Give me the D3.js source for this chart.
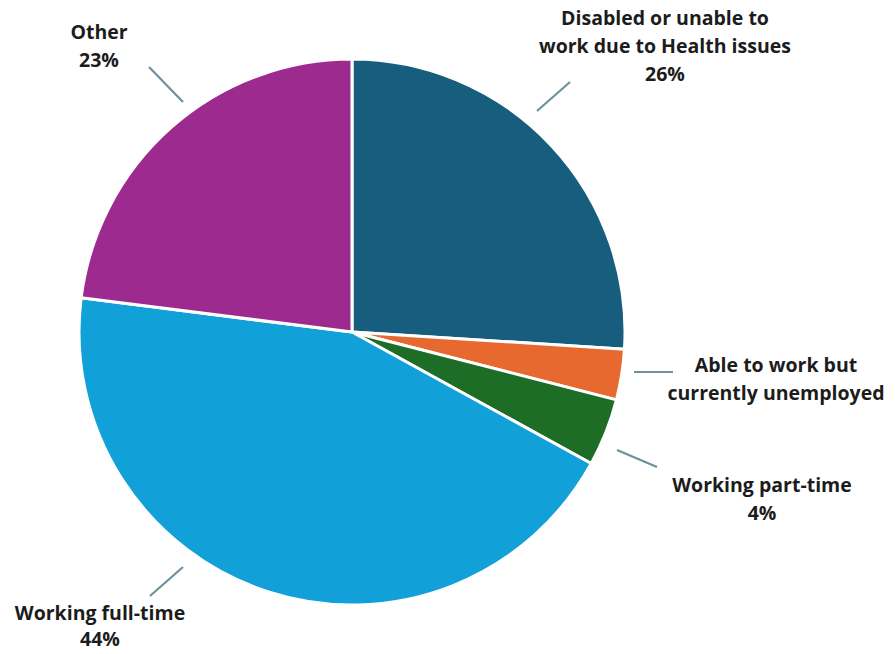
<!DOCTYPE html>
<html>
<head>
<meta charset="utf-8">
<script src="https://cdn.jsdelivr.net/npm/d3@7"></script>
<style>
  html, body { margin: 0; padding: 0; background: #ffffff; }
  svg { display: block; }
  text { font-family: "Open Sans", Lato, sans-serif; font-weight: 700; fill: #1c1c1c; }
</style>
</head>
<body>
<svg id="chart" width="895" height="654"></svg>
<script>
// ---- data ----
const categories = [
  "Disabled or unable to work due to Health issues",
  "Able to work but currently unemployed",
  "Working part-time",
  "Working full-time",
  "Other"
];
const values = [26, 3, 4, 44, 23];
const showPercent = [true, false, true, true, true];
const labelLines = [
  ["Disabled or unable to", "work due to Health issues"],
  ["Able to work but", "currently unemployed"],
  ["Working part-time"],
  ["Working full-time"],
  ["Other"]
];
const colors = ["#165d7e", "#e8692f", "#1e6d26", "#11a0d8", "#9c2a8f"];

// ---- layout (annotation placement, relative to pie center) ----
const W = 895, H = 654;
const cx = 352, cy = 332, R = 273;
const leaders = [
  [185, -221, 218, -250],
  [282, 40, 321, 40],
  [265, 118, 305, 135],
  [-169, 235, -202, 264],
  [-169, -230, -203, -265]
];
const labelPos = [
  [313, -307],
  [424, 40],
  [410, 160],
  [-252, 288],
  [-253, -293]
];
const lineHs = [28, 28, 28, 26, 28];

const svg = d3.select("#chart");
const g = svg.append("g").attr("transform", `translate(${cx},${cy})`);

const pie = d3.pie().sort(null).value(d => d).startAngle(0).endAngle(2 * Math.PI);
const arcs = pie(values);
const arc = d3.arc().innerRadius(0).outerRadius(R);

g.selectAll("path.slice")
  .data(arcs)
  .join("path")
  .attr("class", "slice")
  .attr("d", arc)
  .attr("fill", (d, i) => colors[i])
  .attr("stroke", "#ffffff")
  .attr("stroke-width", 3)
  .attr("stroke-linejoin", "round");

g.selectAll("line.leader")
  .data(leaders)
  .join("line")
  .attr("class", "leader")
  .attr("x1", d => d[0]).attr("y1", d => d[1])
  .attr("x2", d => d[2]).attr("y2", d => d[3])
  .attr("stroke", "#6e8f9c")
  .attr("stroke-width", 2.2);

const fmt = d3.format(".0%");
const total = d3.sum(values);
categories.forEach((c, i) => {
  const lines = labelLines[i].slice();
  if (showPercent[i]) lines.push(fmt(values[i] / total));
  const t = g.append("text")
    .attr("text-anchor", "middle")
    .attr("font-size", 19.5)
    .attr("x", labelPos[i][0])
    .attr("y", labelPos[i][1]);
  lines.forEach((l, j) => {
    t.append("tspan")
      .attr("x", labelPos[i][0])
      .attr("dy", j === 0 ? 0 : lineHs[i])
      .text(l);
  });
});
</script>
</body>
</html>
